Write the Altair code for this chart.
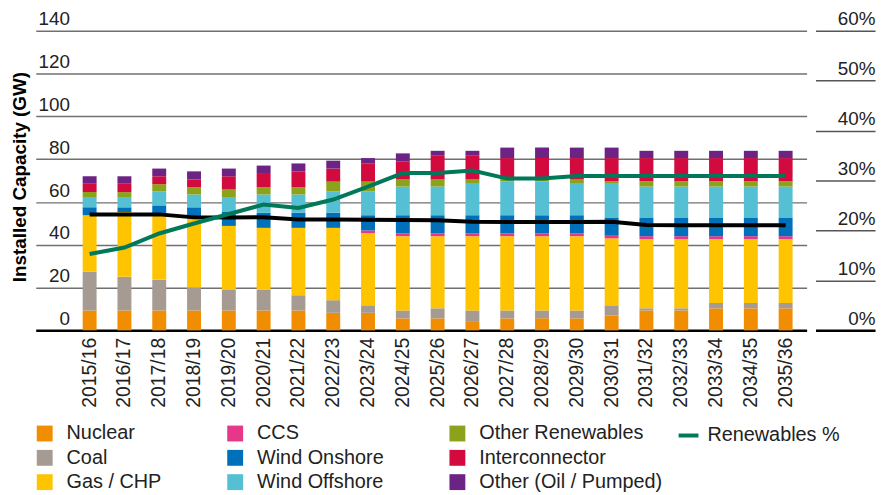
import altair as alt
import pandas as pd

years = ["2015/16", "2016/17", "2017/18", "2018/19", "2019/20", "2020/21", "2021/22",
         "2022/23", "2023/24", "2024/25", "2025/26", "2026/27", "2027/28", "2028/29",
         "2029/30", "2030/31", "2031/32", "2032/33", "2033/34", "2034/35", "2035/36"]

nuclear = [9.3, 9.3, 9.3, 9.3, 9.3, 9.3, 9.3, 8.2, 8.2, 5.6, 5.6, 4.3, 5.6, 5.6, 5.6, 7.0, 9.3, 9.3, 10.3, 10.3, 10.3]
coal = [18.1, 15.7, 14.3, 10.8, 9.6, 9.6, 7.1, 5.9, 3.5, 3.7, 4.7, 5.0, 3.7, 3.7, 3.7, 4.7, 1.0, 1.0, 2.5, 2.5, 2.5]
gas_chp = [26.4, 30.3, 31.2, 33.2, 29.9, 29.0, 31.5, 33.8, 33.7, 34.7, 33.7, 34.7, 34.7, 34.7, 34.7, 31.3, 32.4, 32.4, 29.9, 29.9, 29.9]
ccs = [0, 0, 0, 0, 0, 0, 0, 0, 1.3, 1.3, 1.3, 1.3, 1.3, 1.3, 1.3, 1.2, 1.3, 1.3, 1.3, 1.3, 1.3]
wind_onshore = [3.7, 2.2, 3.6, 4.2, 6.5, 7.1, 7.1, 7.1, 7.1, 8.5, 8.5, 8.5, 8.5, 8.5, 8.5, 8.3, 8.5, 8.5, 8.5, 8.5, 8.5]
wind_offshore = [4.8, 4.8, 6.5, 6.0, 7.0, 8.5, 8.5, 9.9, 11.1, 13.4, 13.4, 14.7, 15.9, 15.9, 14.7, 16.0, 14.7, 14.7, 14.7, 14.7, 14.7]
other_renewables = [2.3, 2.3, 3.4, 3.4, 3.5, 3.4, 3.4, 4.6, 4.6, 3.3, 3.3, 2.0, 1.1, 1.1, 2.0, 1.2, 2.5, 2.5, 2.5, 2.5, 2.5]
interconnector = [3.9, 3.9, 3.7, 3.6, 6.2, 6.2, 7.3, 6.1, 8.4, 8.5, 11.1, 11.1, 9.7, 9.7, 10.0, 10.8, 10.8, 10.8, 10.8, 10.8, 10.8]
other_oil_pumped = [3.5, 3.5, 3.6, 3.8, 3.6, 3.9, 3.8, 3.7, 2.6, 3.7, 2.3, 2.3, 4.9, 4.9, 4.9, 4.9, 3.4, 3.4, 3.4, 3.4, 3.4]

renewables_pct = [15.3, 16.6, 19.4, 21.4, 23.3, 25.2, 24.5, 26.2, 28.8, 31.5, 31.5, 32.0, 30.4, 30.4, 30.9, 30.9, 30.9, 30.9, 30.9, 30.9, 30.9]
black_line = [54.1, 54.1, 54.2, 52.8, 52.7, 52.9, 51.8, 51.8, 51.7, 51.6, 51.5, 50.8, 50.6, 50.6, 50.6, 50.7, 49.2, 49.1, 49.1, 49.1, 49.1]

series_names = ["Nuclear", "Coal", "Gas / CHP", "CCS", "Wind Onshore", "Wind Offshore",
                "Other Renewables", "Interconnector", "Other (Oil / Pumped)"]
series_values = [nuclear, coal, gas_chp, ccs, wind_onshore, wind_offshore,
                 other_renewables, interconnector, other_oil_pumped]
series_colors = ["#F18D00", "#A59B93", "#FFC400", "#E6378B", "#0070BB", "#55C0D4",
                 "#8BA21A", "#D20A3E", "#6C2383"]

rows = []
for si, (name, vals) in enumerate(zip(series_names, series_values)):
    for y, v in zip(years, vals):
        rows.append({"year": y, "type": name, "gw": v, "ord": si})
bars_df = pd.DataFrame(rows)
lines_df = pd.DataFrame({"year": years, "pct": renewables_pct, "black": black_line,
                         "label": ["Renewables %"] * len(years)})

FONT = "Liberation Sans"
TXT = "#222222"
GW_TITLE = "Installed Capacity (GW)"

x_enc = alt.X("year:N", sort=years, title=None,
              scale=alt.Scale(paddingInner=0.6, paddingOuter=0.875, align=0.77),
              axis=alt.Axis(labelAngle=-90, labelFontSize=19.5, labelFont=FONT, labelColor=TXT,
                            ticks=False, labelPadding=7, domainColor="#000000", domainWidth=2.5,
                            grid=False))

gw_axis = alt.Axis(values=[0, 20, 40, 60, 80, 100, 120, 140], grid=True,
                   gridColor="#707070", gridWidth=1.5, domain=False, ticks=False,
                   tickSize=0, labelAlign="right", labelBaseline="alphabetic",
                   labelPadding=-34, labelOffset=-6, labelFontSize=19,
                   labelFont=FONT, labelColor=TXT,
                   titleFont=FONT, titleFontSize=19, titleFontWeight="bold",
                   titleColor="#000000", titleX=-16, titleY=147, titleAngle=-90,
                   titleAlign="center", titleBaseline="middle")
gw_scale = alt.Scale(domain=[0, 140], nice=False)

bars = alt.Chart(bars_df).mark_bar().encode(
    x=x_enc,
    y=alt.Y("gw:Q", stack="zero", title=GW_TITLE, scale=gw_scale, axis=gw_axis),
    color=alt.Color("type:N",
                    scale=alt.Scale(domain=series_names, range=series_colors),
                    legend=alt.Legend(title=None, orient="none", legendX=-1, legendY=396,
                                      columns=3, columnPadding=64, rowPadding=4.5,
                                      symbolType="square", symbolSize=256,
                                      symbolStrokeWidth=0, labelFontSize=20,
                                      labelFont=FONT, labelColor=TXT, labelOffset=12,
                                      labelLimit=400)),
    order=alt.Order("ord:Q", sort="ascending"),
)

black = alt.Chart(lines_df).mark_line(color="#000000", strokeWidth=4).encode(
    x=alt.X("year:N", sort=years),
    y=alt.Y("black:Q", title=GW_TITLE, scale=gw_scale, axis=gw_axis),
)

green = alt.Chart(lines_df).mark_line(strokeWidth=4).encode(
    x=alt.X("year:N", sort=years),
    y=alt.Y("pct:Q", title=None, scale=alt.Scale(domain=[0, 60], nice=False),
            axis=alt.Axis(orient="right", values=[0, 10, 20, 30, 40, 50, 60], grid=False,
                          domain=False, ticks=True, tickSize=60,
                          tickColor={"condition": {"test": "datum.value === 0", "value": "#000000"},
                                     "value": "#555555"},
                          tickWidth={"condition": {"test": "datum.value === 0", "value": 2.5},
                                     "value": 1.5},
                          offset=9, labelPadding=0, labelAlign="right",
                          labelBaseline="alphabetic", labelOffset=-6,
                          labelExpr="datum.value + '%'", labelFontSize=19,
                          labelFont=FONT, labelColor=TXT)),
    stroke=alt.Stroke("label:N", scale=alt.Scale(range=["#00785A"]),
                      legend=alt.Legend(title=None, orient="none", legendX=646, legendY=396,
                                        symbolType="stroke", symbolStrokeWidth=4,
                                        symbolSize=400, labelFontSize=20, labelFont=FONT,
                                        labelColor=TXT, labelOffset=7)),
)

chart = alt.layer(alt.layer(bars, black), green).resolve_scale(
    y="independent"
).properties(
    width=777, height=302,
    autosize=alt.AutoSizeParams(type="none"),
    padding={"left": 28, "top": 21, "right": 75, "bottom": 161},
).configure_view(stroke=None)

chart.save("out.html", embed_options={"renderer": "svg", "actions": False})
